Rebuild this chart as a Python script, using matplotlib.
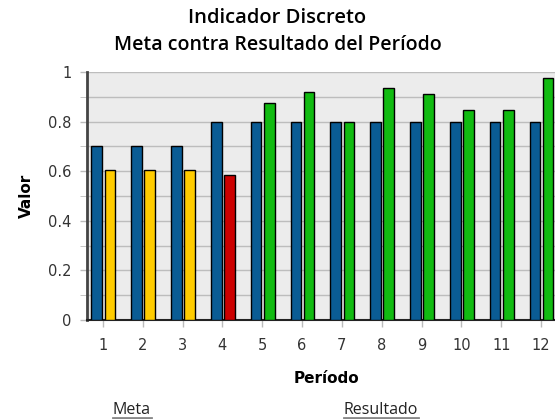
import matplotlib
matplotlib.use("Agg")
import matplotlib.pyplot as plt
import numpy as np
from matplotlib.lines import Line2D

periods = [1, 2, 3, 4, 5, 6, 7, 8, 9, 10, 11, 12]
meta = [0.7, 0.7, 0.7, 0.8, 0.8, 0.8, 0.8, 0.8, 0.8, 0.8, 0.8, 0.8]
resultado = [0.605, 0.605, 0.605, 0.585, 0.875, 0.92, 0.8, 0.935, 0.91, 0.848, 0.848, 0.975]
res_colors = ["#ffcc00", "#ffcc00", "#ffcc00", "#cc0000", "#11bb11", "#11bb11",
              "#11bb11", "#11bb11", "#11bb11", "#11bb11", "#11bb11", "#11bb11"]
yticks = [0, 0.2, 0.4, 0.6, 0.8, 1]
ytick_labels = ["0", "0.2", "0.4", "0.6", "0.8", "1"]

plt.rcParams['font.family'] = ['Open Sans', 'DejaVu Sans']

fig = plt.figure(figsize=(5.55, 4.19), dpi=100)
ax = fig.add_axes([87/555, 1 - 320/419, (565 - 87)/555, (320 - 72)/419])
ax.set_facecolor("#ececec")

x = np.array(periods, dtype=float)
w = 0.27
ax.bar(x - w/2 - 0.02, meta, width=w, color="#0a5c94", edgecolor="black", linewidth=1, zorder=3)
ax.bar(x + w/2 + 0.04, resultado, width=w, color=res_colors, edgecolor="black", linewidth=1, zorder=3)

ax.set_xlim(0.6, 12.6)
ax.set_ylim(0, 1.0)
ax.set_yticks(yticks)
ax.set_yticks(np.arange(0, 1.01, 0.1), minor=True)
ax.grid(True, which="both", axis="y", color="#bdbdbd", linewidth=1, zorder=0)
ax.set_xticks(periods)
tick_font = dict(family="DejaVu Sans", size=10.5, color="#333333")
ax.set_yticklabels(ytick_labels, **tick_font)
ax.set_xticklabels([str(p) for p in periods], **tick_font)

for s in ["top", "right"]:
    ax.spines[s].set_visible(False)
ax.spines["left"].set_color("#444444")
ax.spines["left"].set_linewidth(2)
ax.spines["bottom"].set_color("#222222")
ax.spines["bottom"].set_linewidth(1.5)
ax.tick_params(axis="both", which="major", colors="#bbbbbb", labelcolor="#333333", length=5, width=1)
ax.tick_params(axis="y", which="minor", length=5, colors="#bbbbbb")
ax.tick_params(axis="x", pad=8)
ax.tick_params(axis="y", pad=6)

ax.set_ylabel("Valor", fontsize=11, fontweight="bold", family="DejaVu Sans", labelpad=10)
ax.set_xlabel("Período", fontsize=11, fontweight="bold", family="DejaVu Sans", labelpad=13)

fig.text(0.5, 1 - 18/419, "Indicador Discreto", ha="center", va="center", fontsize=14.5, fontweight="semibold")
fig.text(0.5, 1 - 45/419, "Meta contra Resultado del Período", ha="center", va="center", fontsize=14, fontweight="semibold")

for label, xc in [("Meta", 132), ("Resultado", 381)]:
    t = fig.text(xc/555, 1 - 410/419, label, ha="center", va="center", fontsize=11.5, color="#222222")
    fig.canvas.draw()
    bb = t.get_window_extent()
    fig.add_artist(Line2D([bb.x0/555, bb.x1/555], [1 - 418/419, 1 - 418/419], color="#888888", linewidth=2))

fig.savefig("out.png", dpi=100)
